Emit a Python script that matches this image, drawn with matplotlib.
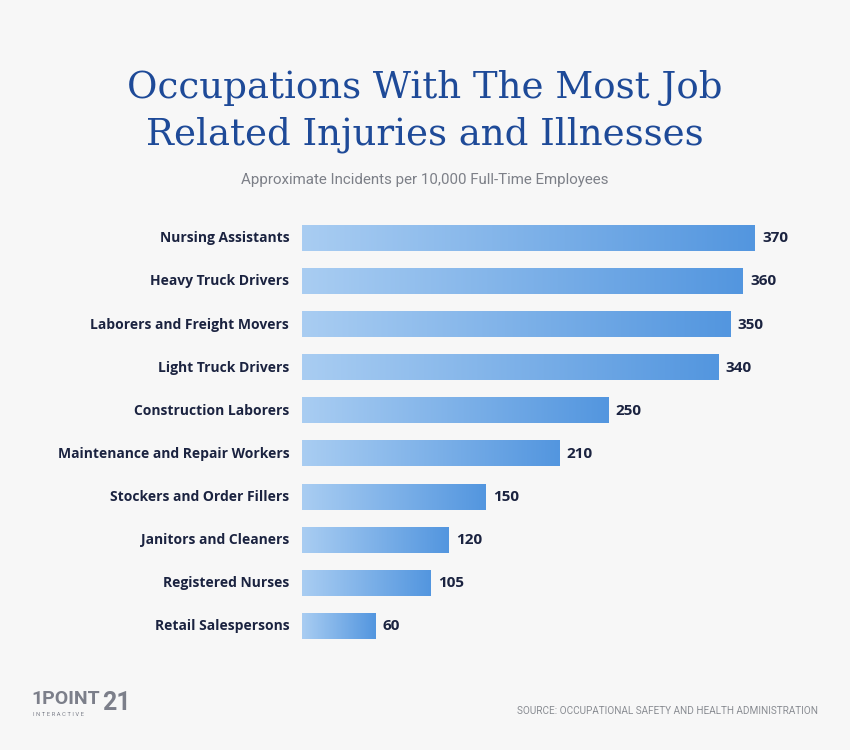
import numpy as np
import matplotlib.pyplot as plt
from matplotlib.colors import LinearSegmentedColormap

# Data
occupations = ['Nursing Assistants', 'Heavy Truck Drivers', 'Laborers and Freight Movers',
               'Light Truck Drivers', 'Construction Laborers', 'Maintenance and Repair Workers',
               'Stockers and Order Fillers', 'Janitors and Cleaners', 'Registered Nurses',
               'Retail Salespersons']
incidents = [370, 360, 350, 340, 250, 210, 150, 120, 105, 60]

bg = '#f7f7f7'
navy = '#1b2340'
cmap = LinearSegmentedColormap.from_list('bar', ['#a9cdf2', '#5396df'])

fig = plt.figure(figsize=(8.5, 7.5), dpi=100)
fig.patch.set_facecolor(bg)

ax = fig.add_axes([302 / 850, 1 - 648 / 750, (755 - 302) / 850, 431.2 / 750])
ax.set_facecolor(bg)

grad = np.linspace(0, 1, 256).reshape(1, -1)
h = 0.58
for i, (name, v) in enumerate(zip(occupations, incidents)):
    ax.imshow(grad, cmap=cmap, aspect='auto', extent=[0, v, i + h / 2, i - h / 2],
              interpolation='bilinear', zorder=2)
    ax.text(v + 6, i, str(v), ha='left', va='center', fontsize=11, fontweight='bold',
            color=navy, family='Open Sans', clip_on=False)
    ax.text(-10.5, i, name, ha='right', va='center', fontsize=10, fontweight='bold',
            color=navy, family='Open Sans', clip_on=False)

ax.set_xlim(0, 370)
ax.set_ylim(len(occupations) - 0.5, -0.5)
ax.axis('off')

# Titles
fig.text(0.5, 1 - 88 / 750, 'Occupations With The Most Job', ha='center', va='center',
         fontsize=26.7, color='#1e4a98', family='DejaVu Serif')
fig.text(0.5, 1 - 135 / 750, 'Related Injuries and Illnesses', ha='center', va='center',
         fontsize=26.7, color='#1e4a98', family='DejaVu Serif')
fig.text(0.5, 1 - 180 / 750, 'Approximate Incidents per 10,000 Full-Time Employees',
         ha='center', va='center', fontsize=10.9, color='#7d8088', family='Roboto')

# Source
fig.text(818 / 850, 1 - 711 / 750, 'SOURCE: OCCUPATIONAL SAFETY AND HEALTH ADMINISTRATION',
         ha='right', va='center', fontsize=7.2, color='#8a8d93', family='Roboto')

# Logo
logo = '#7c7f8a'
fig.text(31 / 850, 1 - 699 / 750, '1POINT', ha='left', va='center', fontsize=14,
         fontweight='bold', color=logo, family='Roboto')
fig.text(102 / 850, 1 - 703 / 750, '21', ha='left', va='center', fontsize=18,
         fontweight='bold', color=logo, family='Roboto')
fig.text(33 / 850, 1 - 714 / 750, 'I N T E R A C T I V E', ha='left', va='center',
         fontsize=4.2, color=logo, family='Roboto')

fig.savefig('out.png', dpi=100, facecolor=bg)
